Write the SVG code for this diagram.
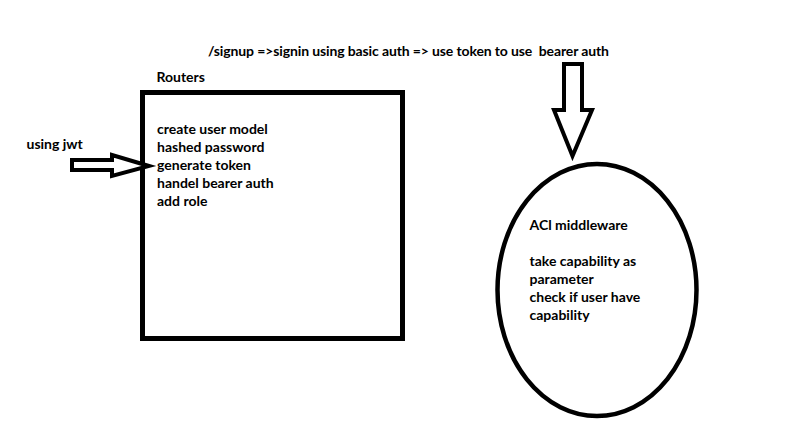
<svg xmlns="http://www.w3.org/2000/svg" width="786" height="426" viewBox="0 0 786 426">
<style>
  text { font-family: Lato, "Open Sans", "Liberation Sans", sans-serif; font-weight: bold; font-size: 14px; fill: #000; white-space: pre; }
  .shape { fill: #fff; stroke: #000; stroke-linejoin: miter; }
</style>
<rect width="786" height="426" fill="#fff"/>
<text x="208" y="56" xml:space="preserve" textLength="401" lengthAdjust="spacing">/signup =&gt;signin using basic auth =&gt; use token to use  bearer auth</text>
<text x="26.5" y="148.5">using jwt</text>
<g id="routers">
  <text x="156.5" y="82">Routers</text>
  <rect class="shape" x="142.5" y="92.5" width="260" height="246" stroke-width="5" fill="none"/>
  <text x="157" y="133.5">create user model</text>
  <text x="157" y="151.5">hashed password</text>
  <text x="157" y="169.5">generate token</text>
  <text x="157" y="187.5">handel bearer auth</text>
  <text x="157" y="205.5">add role</text>
</g>
<g id="acl">
  <ellipse class="shape" cx="597" cy="290" rx="99.5" ry="126" stroke-width="4.5" fill="none"/>
  <text x="529.5" y="230">ACl middleware</text>
  <text x="529.5" y="266">take capability as</text>
  <text x="529.5" y="284">parameter</text>
  <text x="529.5" y="302">check if user have</text>
  <text x="529.5" y="320">capability</text>
</g>
<g id="connectors">
  <path class="shape" stroke-width="4" d="M72,160 L112,160 L112,155 L149,166 L112,176 L112,170 L72,170 Z"/>
  <path class="shape" stroke-width="4" d="M564,64 L582,64 L582,110 L592,110 L572.5,156 L554,110 L564,110 Z"/>
</g>
</svg>
